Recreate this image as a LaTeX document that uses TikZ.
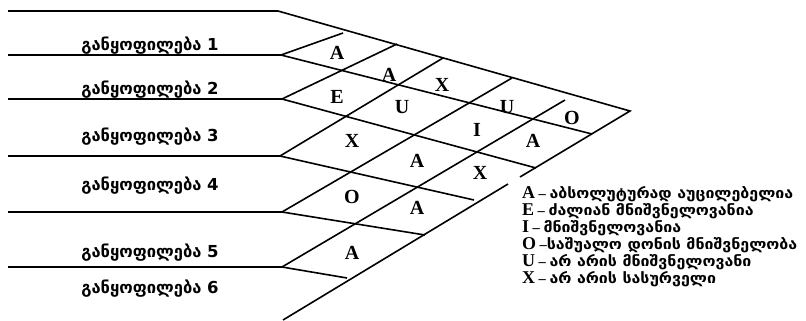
\documentclass[tikz,border=0pt]{standalone}
\usepackage{fontspec}
\setmainfont{Liberation Serif}
\newfontfamily\geofont{DejaVu Sans}
\newfontfamily\geowide[FakeStretch=1.1]{DejaVu Sans}
\usetikzlibrary{positioning}
\newcommand{\keyletter}[1]{{\fontsize{18}{18}\selectfont #1}}

\begin{document}
\begin{tikzpicture}[x=1pt, y=-1pt, line width=1.6pt]
    \tikzstyle{deptlabel} = [font=\geofont\bfseries\fontsize{16.5}{18}\selectfont, inner sep=0pt]
    \tikzstyle{grade} = [font=\bfseries\fontsize{20}{20}\selectfont, inner sep=0pt]
    \tikzstyle{legend} = [font=\bfseries\fontsize{14.5}{16}\selectfont, inner sep=0pt, outer sep=0pt, text height=11.5pt, text depth=5.5pt]
    \useasboundingbox (0,0) rectangle (806,321);

    % Grid points
    \coordinate (l0) at (8,11);   \coordinate (t0) at (278,11);
    \coordinate (l1) at (8,55);   \coordinate (t1) at (281,55);
    \coordinate (l2) at (8,99);   \coordinate (t2) at (282,99);
    \coordinate (l3) at (8,156);  \coordinate (t3) at (280,156);
    \coordinate (l4) at (8,212);  \coordinate (t4) at (282,212);
    \coordinate (l5) at (8,267);  \coordinate (t5) at (282,267);
    \coordinate (apex) at (630,111);
    \coordinate (bottom) at (283,320);
    \coordinate (u1) at (343,33);  \coordinate (u2) at (397,44);
    \coordinate (u3) at (443,58);  \coordinate (u4) at (512,78);
    \coordinate (u5) at (565,100);
    \coordinate (e1) at (592,134); \coordinate (e2) at (536,168);
    \coordinate (e3) at (474,200); \coordinate (e4) at (425,235);
    \coordinate (e5) at (347,278);
    \coordinate (gapa) at (520,177); \coordinate (gapb) at (508,184);

    % Department labels
    \node [deptlabel] (dept1) at (150,46)  {განყოფილება 1};
    \node [deptlabel] (dept2) at (150,90)  {განყოფილება 2};
    \node [deptlabel] (dept3) at (150,137) {განყოფილება 3};
    \node [deptlabel] (dept4) at (150,186) {განყოფილება 4};
    \node [deptlabel] (dept5) at (150,253) {განყოფილება 5};
    \node [deptlabel] (dept6) at (150,289) {განყოფილება 6};

    % Grades
    \node [grade] (g12) at (337,53)  {A};
    \node [grade] (g13) at (389,75)  {A};
    \node [grade] (g14) at (442,85)  {X};
    \node [grade] (g15) at (507,107) {U};
    \node [grade] (g16) at (572,118) {O};
    \node [grade] (g23) at (337,97)  {E};
    \node [grade] (g24) at (402,107) {U};
    \node [grade] (g25) at (477,130) {I};
    \node [grade] (g26) at (533,141) {A};
    \node [grade] (g34) at (352,141) {X};
    \node [grade] (g35) at (417,161) {A};
    \node [grade] (g36) at (480,173) {X};
    \node [grade] (g45) at (352,197) {O};
    \node [grade] (g46) at (417,208) {A};
    \node [grade] (g56) at (352,253) {A};

    % Legend
    \node [legend, anchor=west] (keyA) at (522,195) {\keyletter{A} -- {\geowide აბსოლუტურად აუცილებელია}};
    \node [legend, below=0pt of keyA.south west, anchor=north west] (keyE) {\keyletter{E} -- {\geowide ძალიან მნიშვნელოვანია}};
    \node [legend, below=0pt of keyE.south west, anchor=north west] (keyI) {\keyletter{I} -- {\geowide მნიშვნელოვანია}};
    \node [legend, below=0pt of keyI.south west, anchor=north west] (keyO) {\keyletter{O} --{\geowide საშუალო დონის მნიშვნელობა}};
    \node [legend, below=0pt of keyO.south west, anchor=north west] (keyU) {\keyletter{U} -- {\geowide არ არის მნიშვნელოვანი}};
    \node [legend, below=0pt of keyU.south west, anchor=north west] (keyX) {\keyletter{X} -- {\geowide არ არის სასურველი}};

    % Paths
    \draw (l0) -- (t0) -- (apex) -- (gapa);
    \draw (gapb) -- (bottom);
    \draw (l1) -- (t1) -- (e1);
    \draw (l2) -- (t2) -- (e2);
    \draw (l3) -- (t3) -- (e3);
    \draw (l4) -- (t4) -- (e4);
    \draw (l5) -- (t5) -- (e5);
    \draw (t1) -- (u1);
    \draw (t2) -- (u2);
    \draw (t3) -- (u3);
    \draw (t4) -- (u4);
    \draw (t5) -- (u5);
\end{tikzpicture}
\end{document}
